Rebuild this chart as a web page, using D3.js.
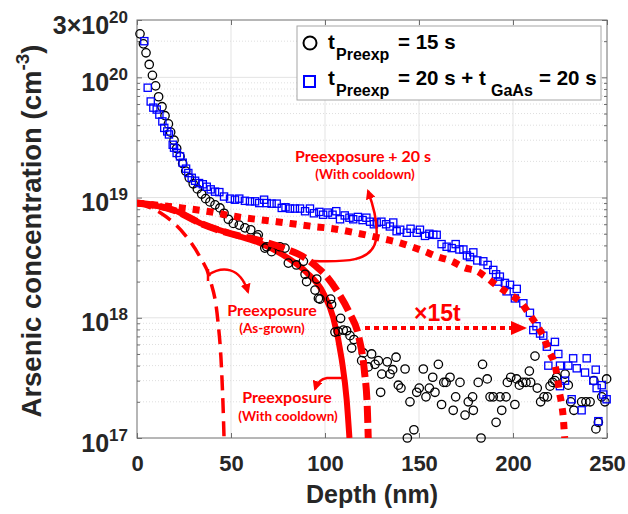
<!DOCTYPE html>
<html>
<head>
<meta charset="utf-8">
<script src="https://cdn.jsdelivr.net/npm/d3@7"></script>
<style>
  body { margin: 0; background: #fff; }
  svg { display: block; }
</style>
</head>
<body>
<svg id="chart" width="628" height="514"></svg>
<script>
  'use strict';

  var depthTicks = [0, 50, 100, 150, 200, 250];
  var concTicks = [1e17, 1e18, 1e19, 1e20, 3e20];
  var concTickLabels = [['10', '17'], ['10', '18'], ['10', '19'], ['10', '20'], ['3\u00d710', '20']];

  // measured SIMS, t_Preexp = 15 s  [depth nm, conc cm-3]
  var preexp15 = [
    [1.6, 2.3e20], [3.4, 1.9e20], [4.8, 1.6e20], [6.5, 1.28e20], [8.2, 1.04e20], [9.9, 8.5e19],
    [11.5, 6.9e19], [13.3, 5.7e19], [14.9, 4.8e19], [16.7, 4.1e19], [17.9, 3.5e19], [19.7, 3.0e19],
    [21.1, 2.56e19], [22.9, 2.2e19], [24.3, 1.92e19], [25.9, 1.66e19], [27.8, 1.46e19], [29.9, 1.3e19],
    [32.1, 1.18e19], [34.4, 1.07e19], [36.5, 9.8e18], [38.8, 9.2e18], [41.5, 8.7e18], [44.1, 8.2e18],
    [46.3, 7.4e18], [48.6, 6.6e18], [51.2, 6.1e18], [54.4, 5.9e18], [57.4, 5.6e18], [60.5, 5.4e18],
    [63.7, 4.7e18], [64.5, 4.9e18], [68, 3.8e18], [69, 3.9e18], [71.6, 3.55e18], [76, 3.9e18],
    [78.7, 3.8e18], [80.5, 2.85e18], [84.8, 2.75e18], [88.5, 2.95e18], [89.4, 2.3e18], [90.2, 2.0e18],
    [94.7, 1.7e18], [95.6, 2.1e18], [96.5, 1.45e18], [97.3, 1.43e18], [103, 1.43e18], [103.5, 1.29e18],
    [105.3, 7.6e17], [108.3, 9.9e17], [107, 7.7e17], [109.7, 7.9e17], [111.5, 7.8e17], [113.3, 7.1e17],
    [114.2, 5.6e17], [115.4, 6.6e17], [119.5, 4.4e17], [120.4, 5.1e17], [123, 3.9e17], [124.8, 5.0e17],
    [126.6, 4.1e17], [128.4, 4.4e17], [129.6, 2.4e17], [130.2, 3.4e17], [133.1, 4.3e17], [134.6, 3.4e17],
    [136, 3.7e17], [137.8, 4.7e17], [139, 2.75e17], [140.4, 2.6e17], [142.6, 3.75e17], [143.8, 1.0e17],
    [145.2, 2.0e17], [147.3, 1.17e17], [148.8, 2.4e17], [150.1, 2.6e17], [152.3, 3.75e17], [153.7, 2.2e17],
    [155.5, 2.6e17], [157.3, 3.2e17], [158.5, 2.4e17], [160.3, 4.1e17], [162, 1.9e17], [163.2, 2.9e17],
    [164.4, 2.9e17], [166.5, 3.2e17], [168.2, 1.7e17], [169.5, 2.2e17], [171.8, 2.9e17], [174.5, 1.55e17],
    [176.2, 2.0e17], [178.5, 2.2e17], [178.9, 1.7e17], [181.5, 2.9e17], [183, 1.0e17], [183.8, 4.1e17],
    [186.3, 3.1e17], [187.8, 2.2e17], [189.5, 2.2e17], [191, 1.35e17], [193.1, 2.2e17], [194, 1.7e17],
    [196.3, 2.2e17], [197, 2.9e17], [198.8, 3.2e17], [201, 1.9e17], [201.9, 3.1e17], [203.4, 2.75e17],
    [205.1, 2.9e17], [206.9, 2.9e17], [208.7, 3.6e17], [209.4, 2.9e17], [211.7, 4.8e17], [212.9, 2.6e17],
    [214.7, 2.0e17], [216.5, 2.2e17], [218.3, 2.2e17], [219.7, 2.7e17], [221.1, 2.9e17], [222.3, 3.0e17],
    [223.2, 3.2e17], [227.7, 3.4e17], [229.4, 2.75e17], [230.7, 2.0e17], [232.4, 1.7e17], [236.5, 2.0e17],
    [238.8, 2.0e17], [241, 2.0e17], [243, 3.0e17], [244.1, 1.19e17], [245.4, 1.35e17], [247.2, 2.2e17],
    [248.9, 2.0e17], [249.8, 3.1e17]
  ];

  // measured SIMS, t_Preexp = 20 s + t_GaAs = 20 s
  var preexp20 = [
    [3.9, 2.0e20], [5.7, 8.2e19], [7.3, 6.3e19], [8.7, 5.6e19], [10.5, 5.4e19], [11.9, 4.9e19],
    [13.5, 4.3e19], [14.5, 3.8e19], [16.1, 3.55e19], [17, 3.35e19], [19, 2.75e19], [19.7, 2.6e19],
    [21.1, 2.35e19], [22.9, 2.2e19], [24.3, 1.95e19], [26.1, 1.74e19], [27.3, 1.6e19], [29.1, 1.46e19],
    [30.9, 1.38e19], [33, 1.32e19], [35, 1.29e19], [37.1, 1.23e19], [39.2, 1.17e19], [41.5, 1.12e19],
    [43.8, 1.11e19], [46.3, 1.02e19], [49.5, 9.8e18], [52.1, 9.6e18], [54.4, 9.8e18], [57.4, 9.4e18],
    [60.1, 9.3e18], [62.8, 9.3e18], [65, 9.0e18], [67.6, 9.6e18], [69, 9.0e18], [71.6, 8.9e18],
    [74.3, 8.9e18], [77, 8.2e18], [79, 8.3e18], [81.4, 8.1e18], [84, 8.1e18], [86.7, 8.1e18],
    [89.4, 7.7e18], [92, 8.1e18], [94.1, 7.4e18], [97, 7.6e18], [99, 7.2e18], [101.5, 7.5e18],
    [104, 7.2e18], [106, 7.7e18], [108, 6.6e18], [110.5, 7.1e18], [113, 6.8e18], [115, 6.6e18],
    [117.5, 6.9e18], [120, 6.5e18], [122, 6.8e18], [124, 6.3e18], [126, 6.0e18], [127.5, 6.2e18],
    [130, 6.3e18], [132.5, 6.0e18], [134.5, 5.75e18], [136.3, 6.2e18], [138.1, 5.25e18], [140, 5.4e18],
    [143.5, 5.1e18], [145.5, 5.5e18], [148.8, 5.1e18], [150.5, 5.4e18], [153.2, 4.8e18], [155.5, 5.0e18],
    [157.6, 4.9e18], [159.4, 4.9e18], [162, 4.1e18], [164.7, 3.9e18], [167.4, 3.8e18], [169.5, 4.1e18],
    [171.5, 3.7e18], [173.6, 3.7e18], [175.5, 3.3e18], [177.1, 3.2e18], [178.9, 3.5e18], [181, 3.0e18],
    [184.2, 2.95e18], [186.5, 2.75e18], [189.5, 2.5e18], [191, 2.3e18], [192.2, 2.0e18], [193, 2.2e18],
    [195.7, 1.95e18], [196.6, 1.66e18], [198.4, 1.88e18], [201, 1.45e18], [202, 1.74e18], [205.5, 1.32e18],
    [209, 1.1e18], [210.8, 7.9e17], [212.5, 8.5e17], [214.4, 7.4e17], [216.1, 7.1e17], [218, 5.75e17],
    [218.8, 4.0e17], [222.3, 6.3e17], [224.1, 5.0e17], [225, 4.0e17], [225, 2.7e17], [227.7, 3.0e17],
    [229.4, 4.0e17], [231.2, 2.1e17], [232, 4.6e17], [233.9, 3.8e17], [236.5, 1.7e17], [238.3, 3.5e17],
    [239.2, 4.6e17], [242.7, 3.0e17], [244, 3.7e17], [244.5, 2.6e17], [245.4, 1.38e17], [247.2, 2.75e17],
    [248, 2.3e17], [249.8, 2.1e17]
  ];

  // simulated profiles
  var asGrown = [[0, 9.0e18], [12.2, 7.5e18], [25.5, 4.9e18], [33.5, 3.2e18], [38.8, 2.1e18],
    [43, 9.5e17], [44.7, 4.5e17], [45.7, 2.0e17], [46.3, 1.0e17]];
  var cooldown = [[0, 9.0e18], [20, 7.8e18], [35, 6.0e18], [50, 5.0e18], [65, 4.2e18], [80, 3.16e18],
    [90, 2.4e18], [99, 1.62e18], [104.4, 1.0e18], [108.9, 4.5e17], [111.5, 2.1e17], [113, 1.0e17]];
  var cooldown20 = [[0, 9.0e18], [20, 7.8e18], [35, 6.0e18], [50, 5.0e18], [65, 4.4e18], [80, 3.7e18],
    [88, 3.25e18], [95, 2.7e18], [101, 2.2e18], [107, 1.62e18], [113, 1.1e18], [118, 6.9e17],
    [121, 3.55e17], [122.5, 1.78e17], [123, 1.0e17]];
  var scaled15t = [[0, 9.0e18], [23.8, 8.2e18], [37.1, 7.7e18], [51.2, 7.0e18], [74.3, 6.3e18],
    [93.8, 5.75e18], [102.7, 5.55e18], [118.6, 5.0e18], [131.9, 4.5e18], [139.9, 4.2e18], [146.1, 3.9e18],
    [153.2, 3.55e18], [160.3, 3.2e18], [166.5, 3.0e18], [174.5, 2.6e18], [180.7, 2.45e18], [186.9, 2.1e18],
    [191.3, 1.86e18], [198.8, 1.55e18], [204.6, 1.32e18], [208.7, 1.07e18], [213.5, 8.3e17], [216.5, 6.8e17],
    [219.3, 5.2e17], [222, 4.2e17], [223.6, 3.2e17], [224.6, 2.45e17], [225.9, 1.9e17], [226.8, 1.45e17],
    [227.3, 1.1e17], [227.5, 1.0e17]];

  (function () {
    var svg = d3.select('#chart'),
      pL = 137, pR = 607, pT = 20, pB = 438,
      axisFont = '"Liberation Sans", Arial, sans-serif',
      noteFont = 'Lato, "Open Sans", sans-serif',
      red = '#ff0000';

    var x = d3.scaleLinear().domain([0, 250]).range([pL, pR]);
    var y = d3.scaleLog().domain([1e17, 3e20]).range([pB, pT]);

    var minorConc = [];
    [17, 18, 19, 20].forEach(function (e) {
      d3.range(2, 10).forEach(function (m) {
        var v = m * Math.pow(10, e);
        if (v < 3e20) minorConc.push(v);
      });
    });

    var defs = svg.append('defs');
    defs.append('clipPath').attr('id', 'plotClip')
      .append('rect').attr('x', pL).attr('y', pT).attr('width', pR - pL).attr('height', pB - pT);

    var grid = svg.append('g');
    grid.selectAll('.vgrid').data(depthTicks.slice(1, -1)).enter().append('line')
      .attr('x1', function (d) { return x(d); }).attr('x2', function (d) { return x(d); })
      .attr('y1', pT).attr('y2', pB)
      .attr('stroke', '#e3e3e3').attr('stroke-width', 1);
    grid.selectAll('.hgrid').data([1e18, 1e19, 1e20]).enter().append('line')
      .attr('x1', pL).attr('x2', pR)
      .attr('y1', function (d) { return y(d); }).attr('y2', function (d) { return y(d); })
      .attr('stroke', '#e3e3e3').attr('stroke-width', 1);
    grid.selectAll('.mgrid').data(minorConc).enter().append('line')
      .attr('x1', pL).attr('x2', pR)
      .attr('y1', function (d) { return y(d); }).attr('y2', function (d) { return y(d); })
      .attr('stroke', '#dedede').attr('stroke-width', 1).attr('stroke-dasharray', '1,2');

    function styleAxis(g) {
      g.select('.domain').remove();
      g.selectAll('.tick line').attr('stroke', '#6e6e6e');
      g.selectAll('.tick text').attr('fill', '#262626');
    }

    svg.append('g').attr('transform', 'translate(0,' + pB + ')')
      .call(d3.axisBottom(x).tickValues(depthTicks).tickSizeInner(-5).tickSizeOuter(0).tickPadding(17))
      .call(styleAxis)
      .selectAll('text').attr('font-family', axisFont).attr('font-weight', 'bold').attr('font-size', 22);
    svg.append('g').attr('transform', 'translate(0,' + pT + ')')
      .call(d3.axisTop(x).tickValues(depthTicks).tickSizeInner(-5).tickSizeOuter(0).tickFormat(''))
      .call(styleAxis);

    var yAxis = svg.append('g').attr('transform', 'translate(' + pL + ',0)')
      .call(d3.axisLeft(y).tickValues(concTicks).tickSizeInner(-5).tickSizeOuter(0).tickPadding(9).tickFormat(''))
      .call(styleAxis);
    yAxis.selectAll('.tick text').each(function (d, i) {
      var t = d3.select(this)
        .attr('dy', '13px')
        .attr('font-family', axisFont).attr('font-weight', 'bold').attr('font-size', 25);
      t.append('tspan').text(concTickLabels[i][0]);
      t.append('tspan').attr('font-size', 17).attr('dy', -11).text(concTickLabels[i][1]);
    });
    svg.append('g').attr('transform', 'translate(' + pL + ',0)')
      .call(d3.axisLeft(y).tickValues(minorConc).tickSizeInner(-3).tickSizeOuter(0).tickFormat(''))
      .call(styleAxis);
    svg.append('g').attr('transform', 'translate(' + pR + ',0)')
      .call(d3.axisRight(y).tickValues(concTicks).tickSizeInner(-5).tickSizeOuter(0).tickFormat(''))
      .call(styleAxis);
    svg.append('g').attr('transform', 'translate(' + pR + ',0)')
      .call(d3.axisRight(y).tickValues(minorConc).tickSizeInner(-3).tickSizeOuter(0).tickFormat(''))
      .call(styleAxis);

    svg.append('rect')
      .attr('x', pL).attr('y', pT).attr('width', pR - pL).attr('height', pB - pT)
      .attr('fill', 'none').attr('stroke', '#6e6e6e').attr('stroke-width', 1);

    var line = d3.line()
      .x(function (d) { return x(d[0]); })
      .y(function (d) { return y(d[1]); })
      .curve(d3.curveMonotoneX);

    function drawCurve(data, width, dash) {
      svg.append('path').datum(data)
        .attr('clip-path', 'url(#plotClip)')
        .attr('d', line)
        .attr('fill', 'none')
        .attr('stroke', red)
        .attr('stroke-width', width)
        .attr('stroke-dasharray', dash);
    }

    drawCurve(cooldown, 6, null);
    drawCurve(asGrown, 3.5, '15,8');

    svg.append('g').selectAll('circle').data(preexp15).enter().append('circle')
      .attr('cx', function (d) { return x(d[0]); })
      .attr('cy', function (d) { return y(d[1]); })
      .attr('r', 4.2)
      .attr('fill', 'none').attr('stroke', '#000').attr('stroke-width', 1.3);

    drawCurve(cooldown20, 7, '17,6');

    svg.append('g').selectAll('rect').data(preexp20).enter().append('rect')
      .attr('x', function (d) { return x(d[0]) - 3.6; })
      .attr('y', function (d) { return y(d[1]) - 3.6; })
      .attr('width', 7.2).attr('height', 7.2)
      .attr('fill', 'none').attr('stroke', '#0000ff').attr('stroke-width', 1.3);

    drawCurve(scaled15t, 7, '7,7');

    // annotations
    defs.append('marker')
      .attr('id', 'head').attr('viewBox', '0 0 10 10').attr('refX', 8).attr('refY', 5)
      .attr('markerWidth', 4).attr('markerHeight', 4).attr('orient', 'auto')
      .attr('markerUnits', 'strokeWidth')
      .append('path').attr('d', 'M0,0L10,5L0,10Z').attr('fill', red);

    var notes = svg.append('g');
    function arrow(d) {
      notes.append('path').attr('d', d)
        .attr('fill', 'none').attr('stroke', red).attr('stroke-width', 2.5)
        .attr('marker-end', 'url(#head)');
    }
    arrow('M208,275C222,266 240,266 248,292');
    notes.append('line').attr('x1', 208).attr('x2', 208).attr('y1', 269).attr('y2', 281)
      .attr('stroke', red).attr('stroke-width', 2.5);
    arrow('M343,378L327,378C320,379 317,383 315,389');
    arrow('M313,261C345,262 372,262 376,240C379,222 372,202 368,191');

    notes.append('line').attr('x1', 365).attr('x2', 512).attr('y1', 328).attr('y2', 328)
      .attr('stroke', red).attr('stroke-width', 4).attr('stroke-dasharray', '5,4');
    notes.append('path').attr('d', 'M511,321L527,328L511,335Z').attr('fill', red);

    function note(cx, by, size, str) {
      notes.append('text').attr('x', cx).attr('y', by)
        .attr('text-anchor', 'middle')
        .attr('font-family', noteFont).attr('font-weight', 'bold')
        .attr('font-size', size).attr('fill', red)
        .text(str);
    }
    note(363, 162, 16, 'Preexposure + 20 s');
    note(365, 179, 13.5, '(With cooldown)');
    note(272, 316, 16, 'Preexposure');
    note(272, 333, 13.5, '(As-grown)');
    note(287, 403, 16, 'Preexposure');
    note(288, 421, 13.5, '(With cooldown)');
    notes.append('text').attr('x', 414).attr('y', 321)
      .attr('font-family', axisFont).attr('font-weight', 'bold').attr('font-size', 23).attr('fill', red)
      .text('\u00d715t');

    // legend
    var legend = svg.append('g');
    legend.append('rect').attr('x', 297).attr('y', 26).attr('width', 304).attr('height', 74)
      .attr('fill', '#fff').attr('stroke', '#a6a6a6').attr('stroke-width', 1);
    legend.append('circle').attr('cx', 310).attr('cy', 43).attr('r', 6.5)
      .attr('fill', 'none').attr('stroke', '#000').attr('stroke-width', 2);
    legend.append('rect').attr('x', 304).attr('y', 76).attr('width', 11).attr('height', 11)
      .attr('fill', 'none').attr('stroke', '#0000ff').attr('stroke-width', 2);

    function legendRow(by, parts) {
      var t = legend.append('text').attr('y', by)
        .attr('font-family', axisFont).attr('font-weight', 'bold').attr('font-size', 20).attr('fill', '#000');
      var level = 0;
      parts.forEach(function (p) {
        var shift = p.sub ? 11 : 0;
        t.append('tspan').attr('x', p.x).attr('dy', shift - level)
          .attr('font-size', p.sub ? 16 : 20.5).text(p.s);
        level = shift;
      });
    }
    legendRow(49, [{ x: 328, s: 't' }, { x: 336, s: 'Preexp', sub: true }, { x: 398, s: '= 15 s' }]);
    legendRow(85, [{ x: 328, s: 't' }, { x: 336, s: 'Preexp', sub: true }, { x: 398, s: '= 20 s + t' },
      { x: 491, s: 'GaAs', sub: true }, { x: 539, s: '= 20 s' }]);

    // axis titles
    svg.append('text').attr('x', 372).attr('y', 503).attr('text-anchor', 'middle')
      .attr('font-family', axisFont).attr('font-weight', 'bold').attr('font-size', 25).attr('fill', '#262626')
      .text('Depth (nm)');
    var yt = svg.append('text').attr('transform', 'translate(41,231) rotate(-90)').attr('text-anchor', 'middle')
      .attr('font-family', axisFont).attr('font-weight', 'bold').attr('font-size', 27.5).attr('fill', '#262626');
    yt.append('tspan').text('Arsenic concentration (cm');
    yt.append('tspan').attr('font-size', 19).attr('dy', -12).text('-3');
    yt.append('tspan').attr('dy', 12).text(')');
  })();
</script>
</body>
</html>
